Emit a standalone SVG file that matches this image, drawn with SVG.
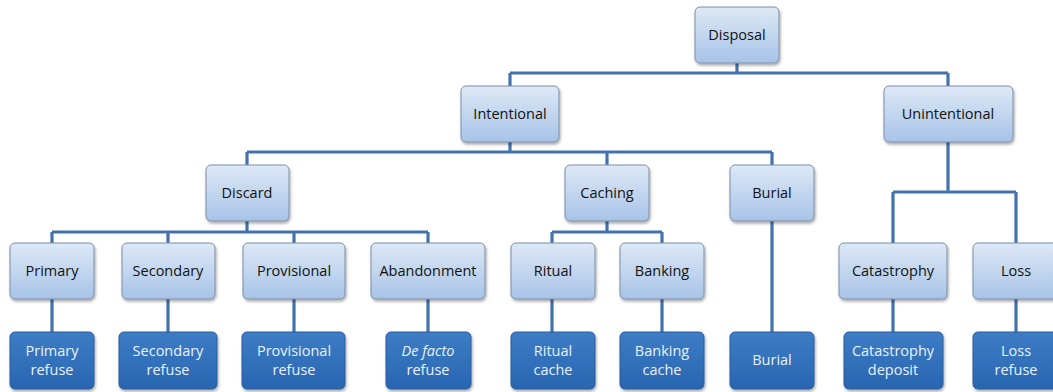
<svg xmlns="http://www.w3.org/2000/svg" width="1053" height="392" viewBox="0 0 1053 392">
<defs>
<linearGradient id="gl" x1="0" y1="0" x2="0" y2="1">
<stop offset="0" stop-color="#dde9f6"/>
<stop offset="1" stop-color="#a7c3e7"/>
</linearGradient>
<linearGradient id="gd" x1="0" y1="0" x2="0" y2="1">
<stop offset="0" stop-color="#3d7dc6"/>
<stop offset="1" stop-color="#2865b0"/>
</linearGradient>
<filter id="sh" x="-10%" y="-10%" width="130%" height="140%">
<feDropShadow dx="1" dy="2" stdDeviation="1.5" flood-color="#000" flood-opacity="0.35"/>
</filter>
</defs>
<style>
.l rect{fill:url(#gl);stroke:#7d8ea8;stroke-width:1;filter:url(#sh)}
.d rect{fill:url(#gd);stroke:#2a5d9c;stroke-width:1;filter:url(#sh)}
text{font-family:"Open Sans","Liberation Sans",sans-serif;font-size:14.5px;text-anchor:middle}
.l text{fill:#111}
.d text{fill:#eaf1fa}
#conn path{fill:none;stroke:#4373ac;stroke-width:3.2}
</style>
<rect width="1053" height="392" fill="#fff"/>
<g id="conn">
<path d="M737 63V73M510 73H948M510 73V86M948 73V86"/>
<path d="M510 142V152M247 152H772M247 152V165M607 152V165M772 152V165"/>
<path d="M247 221V232M52 232H428M52 232V243M168 232V243M294 232V243M428 232V243"/>
<path d="M607 221V232M552 232H662M552 232V243M662 232V243"/>
<path d="M948 142V192M893 192H1016M893 192V243M1016 192V243"/>
<path d="M52 299V332M168 299V332M294 299V332M428 299V332M552 299V332M662 299V332M893 299V332M1016 299V332M772 221V332"/>
</g>
<g id="disposal" class="l"><rect x="695" y="7" width="84" height="56" rx="5"/><text x="737" y="40">Disposal</text></g>
<g id="intentional" class="l"><rect x="461" y="86" width="98" height="56" rx="5"/><text x="510" y="119">Intentional</text></g>
<g id="unintentional" class="l"><rect x="884" y="86" width="129" height="56" rx="5"/><text x="948" y="119">Unintentional</text></g>
<g id="discard" class="l"><rect x="206" y="165" width="83" height="56" rx="5"/><text x="247" y="198">Discard</text></g>
<g id="caching" class="l"><rect x="565" y="165" width="84" height="56" rx="5"/><text x="607" y="198">Caching</text></g>
<g id="burial" class="l"><rect x="730" y="165" width="84" height="56" rx="5"/><text x="772" y="198">Burial</text></g>
<g id="primary" class="l"><rect x="10" y="243" width="84" height="56" rx="5"/><text x="52" y="276">Primary</text></g>
<g id="secondary" class="l"><rect x="122" y="243" width="93" height="56" rx="5"/><text x="168" y="276">Secondary</text></g>
<g id="provisional" class="l"><rect x="243" y="243" width="102" height="56" rx="5"/><text x="294" y="276">Provisional</text></g>
<g id="abandonment" class="l"><rect x="371" y="243" width="114" height="56" rx="5"/><text x="428" y="276">Abandonment</text></g>
<g id="ritual" class="l"><rect x="511" y="243" width="84" height="56" rx="5"/><text x="553" y="276">Ritual</text></g>
<g id="banking" class="l"><rect x="620" y="243" width="84" height="56" rx="5"/><text x="662" y="276">Banking</text></g>
<g id="catastrophy" class="l"><rect x="839" y="243" width="108" height="56" rx="5"/><text x="893" y="276">Catastrophy</text></g>
<g id="loss" class="l"><rect x="973" y="243" width="86" height="56" rx="5"/><text x="1016" y="276">Loss</text></g>
<g id="primary-refuse" class="d"><rect x="10" y="332" width="84" height="57" rx="5"/><text x="52" y="356">Primary</text><text x="52" y="375">refuse</text></g>
<g id="secondary-refuse" class="d"><rect x="119" y="332" width="98" height="57" rx="5"/><text x="168" y="356">Secondary</text><text x="168" y="375">refuse</text></g>
<g id="provisional-refuse" class="d"><rect x="242" y="332" width="103" height="57" rx="5"/><text x="294" y="356">Provisional</text><text x="294" y="375">refuse</text></g>
<g id="defacto-refuse" class="d"><rect x="386" y="332" width="85" height="57" rx="5"/><text x="428" y="356" font-style="italic">De facto</text><text x="428" y="375">refuse</text></g>
<g id="ritual-cache" class="d"><rect x="511" y="332" width="84" height="57" rx="5"/><text x="553" y="356">Ritual</text><text x="553" y="375">cache</text></g>
<g id="banking-cache" class="d"><rect x="620" y="332" width="84" height="57" rx="5"/><text x="662" y="356">Banking</text><text x="662" y="375">cache</text></g>
<g id="burial-d" class="d"><rect x="730" y="332" width="84" height="57" rx="5"/><text x="772" y="365">Burial</text></g>
<g id="catastrophy-deposit" class="d"><rect x="844" y="332" width="99" height="57" rx="5"/><text x="893" y="356">Catastrophy</text><text x="893" y="375">deposit</text></g>
<g id="loss-refuse" class="d"><rect x="973" y="332" width="86" height="57" rx="5"/><text x="1016" y="356">Loss</text><text x="1016" y="375">refuse</text></g>
</svg>
